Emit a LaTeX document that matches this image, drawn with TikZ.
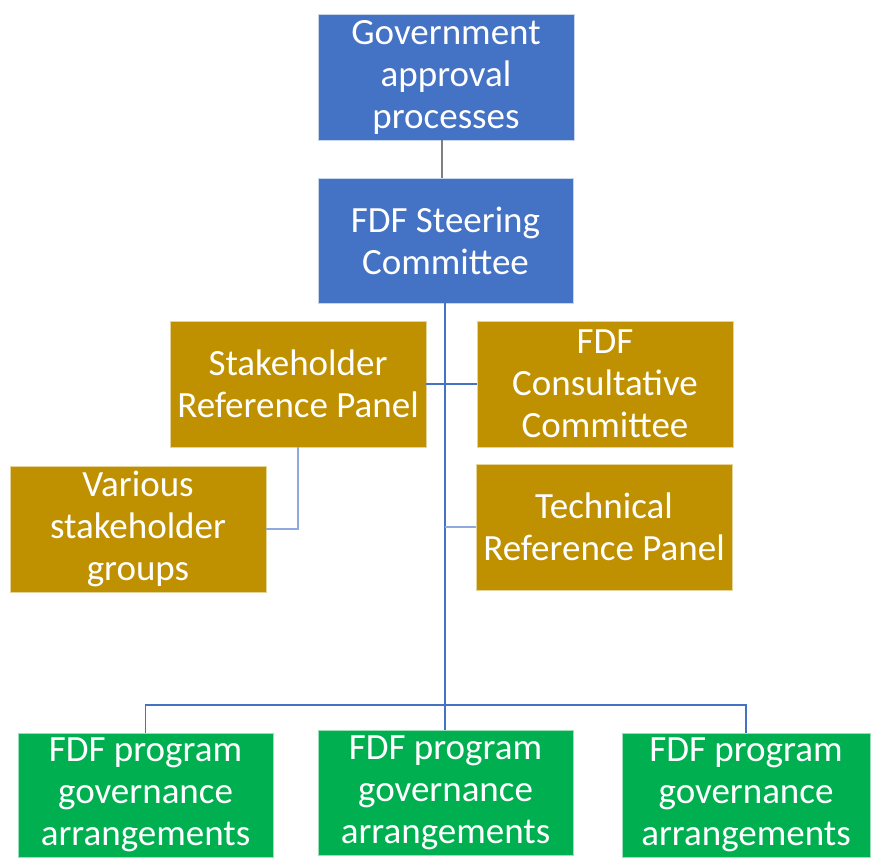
\documentclass[tikz,border=0pt]{standalone}
\usepackage{fontspec}
\setmainfont{Carlito}
\usetikzlibrary{positioning}
\definecolor{govblue}{HTML}{4472C4}
\definecolor{panelgold}{HTML}{BF9000}
\definecolor{proggreen}{HTML}{00B050}
\begin{document}
\begin{tikzpicture}[x=1pt, y=-1pt,
    box/.style={rectangle, draw=white!70!govblue, line width=0.8pt, text=white, align=center,
        minimum width=256pt, minimum height=126pt, inner sep=0pt,
        font=\fontsize{37}{42}\selectfont},
    bluebox/.style={box, fill=govblue},
    goldbox/.style={box, fill=panelgold, draw=white!60!panelgold},
    greenbox/.style={box, fill=proggreen, draw=white!60!proggreen},
    link/.style={draw=govblue, line width=1.5pt},
    softlink/.style={draw=govblue!60, line width=1.5pt},
    greylink/.style={draw=gray, line width=2.5pt}]
    \useasboundingbox (0,0) rectangle (872,857);

    % Nodes
    \node[bluebox] (gov) at (446,77) {Government\\approval\\processes};
    \node[bluebox, minimum width=255pt, minimum height=125pt] (steer) at (445.5,240.5) {FDF Steering\\Committee};
    \node[goldbox] (srp) at (298,384) {Stakeholder\\Reference Panel};
    \node[goldbox] (fcc) at (605,384) {FDF\\Consultative\\Committee};
    \node[goldbox] (various) at (138,529) {Various\\stakeholder\\groups};
    \node[goldbox] (trp) at (604,527) {Technical\\Reference Panel};
    \node[greenbox, minimum width=255pt, minimum height=124pt] (progA) at (145.5,795) {FDF program\\governance\\arrangements};
    \node[greenbox, minimum width=255pt, minimum height=125pt] (progB) at (445.5,792.5) {FDF program\\governance\\arrangements};
    \node[greenbox, minimum width=248pt, minimum height=124pt] (progC) at (746,795) {FDF program\\governance\\arrangements};
    \coordinate (split) at (445,705);

    % Lines
    \draw[greylink] (gov.south -| 442,0) -- (steer.north -| 442,0);
    \draw[link] (steer.south -| split) -- (split);
    \draw[link] (srp.east) -- (fcc.west);
    \draw[softlink] (trp.west -| split) -- (trp.west);
    \draw[softlink] (srp.south) |- (various.east);
    \draw[link] (split) -| (progA.north);
    \draw[link] (split) -| (progC.north);
    \draw[link] (split) -- (progB.north -| split);
\end{tikzpicture}
\end{document}
